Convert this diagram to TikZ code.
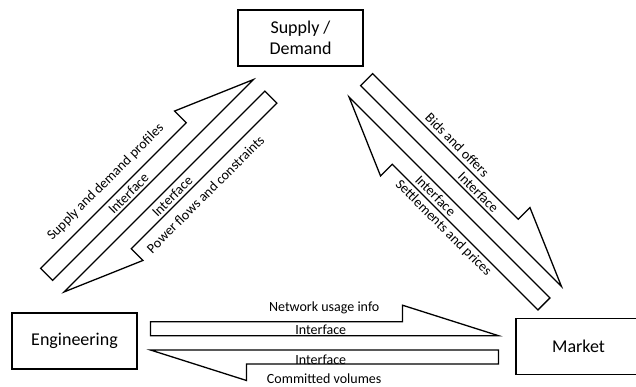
\documentclass[tikz,border=0pt]{standalone}
\usepackage{fontspec}
\setmainfont{Carlito}
\usetikzlibrary{calc}

\tikzset{
    block/.style={draw, line width=1.5pt, minimum width=125pt, minimum height=56pt, inner sep=0pt, align=center, font=\fontsize{18}{21.6}\selectfont},
    halfarrow/.style={draw, line width=1.3pt, line join=miter},
    lbl/.style={inner sep=0pt, transform shape, font=\fontsize{14}{16}\selectfont}
}

\begin{document}
\begin{tikzpicture}[x=1pt, y=1pt]
    \useasboundingbox (0,0) rectangle (636,-386);
    \node [block] (supply) at (300.5,-38) {Supply /\\Demand};
    \node [block] (eng) at (74.5,-341) {Engineering};
    \node [block] (market) at (578.5,-346.5) {Market};
    \begin{scope}[shift={(158.75,-185.75)}, rotate=45]
        \draw [halfarrow] (-142,8.15) -- (142,8.15) -- (64,41.65) -- (64,25.15) -- (-142,25.15) -- cycle;
        \draw [halfarrow] (142,-8.15) -- (-142,-8.15) -- (-64,-41.65) -- (-64,-25.15) -- (142,-25.15) -- cycle;
        \node [lbl] (profiles) at (-35,40) {Supply and demand profiles};
        \node [lbl] (ifprofiles) at (-27,16) {Interface};
        \node [lbl] (ifflows) at (2,-17) {Interface};
        \node [lbl] (flows) at (27,-39) {Power flows and constraints};
    \end{scope}
    \begin{scope}[shift={(455.25,-191.75)}, rotate=-45]
        \draw [halfarrow] (-142,8.15) -- (142,8.15) -- (64,41.65) -- (64,25.15) -- (-142,25.15) -- cycle;
        \draw [halfarrow] (142,-8.15) -- (-142,-8.15) -- (-64,-41.65) -- (-64,-25.15) -- (142,-25.15) -- cycle;
        \node [lbl] (bids) at (-31.6,34.5) {Bids and offers};
        \node [lbl] (ifbids) at (16.8,15.9) {Interface};
        \node [lbl] (ifprices) at (-11.1,-16.6) {Interface};
        \node [lbl] (prices) at (17.5,-34.3) {Settlements and prices};
    \end{scope}
    \begin{scope}[shift={(324.5,-342.85)}]
        \draw [halfarrow] (-174,7.15) -- (174,7.15) -- (78,37.65) -- (78,21.15) -- (-174,21.15) -- cycle;
        \draw [halfarrow] (174,-7.15) -- (-174,-7.15) -- (-78,-37.65) -- (-78,-21.15) -- (174,-21.15) -- cycle;
        \node [lbl] (usage) at (-0.3,35.5) {Network usage info};
        \node [lbl] (ifusage) at (-3.7,13.5) {Interface};
        \node [lbl] (ifvolumes) at (-3.7,-17) {Interface};
        \node [lbl] (volumes) at (-0.3,-35.8) {Committed volumes};
    \end{scope}
\end{tikzpicture}
\end{document}
